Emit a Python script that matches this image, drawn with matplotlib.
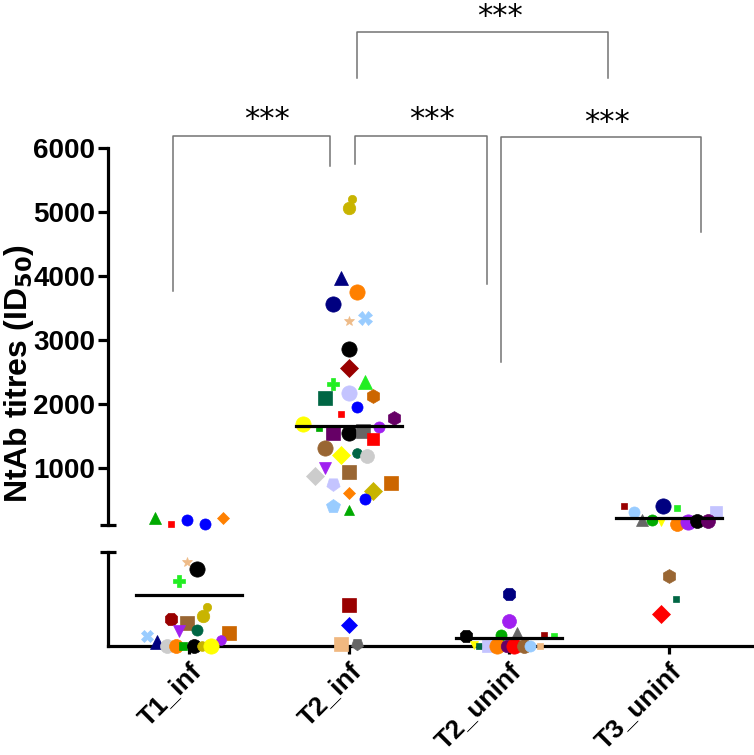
import numpy as np
import matplotlib
matplotlib.use("Agg")
import matplotlib.pyplot as plt

plt.rcParams['font.family'] = ['Liberation Sans', 'DejaVu Sans']
plt.rcParams['font.weight'] = 'bold'
plt.rcParams['mathtext.default'] = 'bf'

# grupos e médias
groups = ["T1_inf", "T2_inf", "T2_uninf", "T3_uninf"]
mean_vals = [54, 1649, 9, 210]
brk = 100  # limite entre o eixo de baixo (0-100) e o de cima (100-6000)

# paleta
C = dict(navy='#000080', orange='#FF8000', black='#000000', dred='#990000',
         lime='#22EE22', green='#00AA00', teal='#006644', lav='#C4C4FF',
         obrown='#CC6600', blue='#0000FF', red='#FF0000', dpurp='#660066',
         yellow='#FFFF00', gray='#666666', purp='#A020F0', brown='#996633',
         lgray='#CCCCCC', olive='#C8B400', lblue='#99CCFF', tan='#EEBB88',
         peach='#F0B880')
INV5 = (5, 0, 180)

# T1_inf
t1_vals = [210, 116, 178, 116, 210, 89, 82, 69, 41, 32, 29, 24, 16, 17, 14, 6,
           11, 4, 0, 0, 0, 0, 0, 0]
t1_jit = [-0.21, -0.11, -0.01, 0.10, 0.21, -0.01, 0.05, -0.06, 0.11, 0.09,
          -0.11, -0.01, -0.06, 0.05, 0.25, 0.20, -0.26, -0.20, -0.14, -0.08,
          -0.04, 0.03, 0.08, 0.14]
t1_col = ['green', 'red', 'blue', 'blue', 'orange', 'tan', 'black', 'lime',
          'olive', 'olive', 'dred', 'brown', 'purp', 'teal', 'obrown', 'purp',
          'lblue', 'navy', 'lgray', 'orange', 'green', 'black', 'olive', 'yellow']
t1_mk = ['^', 's', 'o', 'o', 'D', '*', 'o', 'P', 'o', 'o', '8', 's', 'v', 'o',
         's', 'o', 'X', '^', 'o', 'o', 's', 'o', 'o', 'o']
t1_ms = [8, 4, 8, 8, 6, 7, 11, 8, 6, 9, 10, 10, 8, 8, 10, 7, 9, 10, 10, 10, 6,
         10, 7, 11]

# T2_inf
t2_vals = [5202, 5061, 3965, 3746, 3559, 3292, 3339, 2854, 2557, 2307, 2338,
           2088, 2166, 2119, 1947, 1837, 1775, 1681, 1618, 1540, 1540, 1571,
           1634, 1446, 1305, 1195, 1227, 1180, 992, 867, 929, 742, 601, 632,
           757, 507, 397, 335, 44, 22, 2, 2]
t2_jit = [0.02, 0.0, -0.05, 0.05, -0.10, 0.0, 0.10, 0.0, 0.0, -0.10, 0.10,
          -0.15, 0.0, 0.15, 0.05, -0.05, 0.28, -0.29, -0.19, -0.10, 0.0, 0.09,
          0.19, 0.15, -0.15, -0.05, 0.05, 0.11, -0.15, -0.21, 0.0, -0.10, 0.0,
          0.15, 0.26, 0.10, -0.10, 0.0, 0.0, 0.0, -0.05, 0.05]
t2_col = ['olive', 'olive', 'navy', 'orange', 'navy', 'tan', 'lblue', 'black',
          'dred', 'lime', 'lime', 'teal', 'lav', 'obrown', 'blue', 'red',
          'dpurp', 'yellow', 'green', 'dpurp', 'black', 'gray', 'purp', 'red',
          'brown', 'yellow', 'teal', 'lgray', 'purp', 'lgray', 'brown', 'lav',
          'orange', 'olive', 'obrown', 'blue', 'lblue', 'green', 'dred', 'blue',
          'peach', 'gray']
t2_mk = ['o', 'o', '^', 'o', 'o', '*', 'X', 'o', 'D', 'P', '^', 's', 'o', 'h',
         'o', 's', 'h', 'o', 's', 's', 'o', 's', 'o', 's', 'o', 'D', 'o', 'o',
         'v', 'D', 's', INV5, 'D', 'D', 's', 'o', 'p', '^', 's', 'D', 's', INV5]
t2_ms = [6, 9, 10, 11, 11, 7, 10, 11, 9, 8, 10, 10, 11, 10, 8, 4, 10, 11, 5,
         10, 11, 10, 8, 8, 11, 9, 7, 10, 8, 9, 10, 10, 6, 9, 10, 8, 10, 7, 10,
         8, 10, 9]

# T2_uninf
t3_vals = [55, 27, 11, 12, 14, 12, 11, 1, 0, 0, 0, 0, 0, 0, 0, 0]
t3_jit = [0.0, 0.0, -0.27, -0.05, 0.05, 0.22, 0.28, -0.22, -0.19, -0.13,
          -0.075, -0.01, 0.03, 0.09, 0.13, 0.19]
t3_col = ['navy', 'purp', 'black', 'green', 'gray', 'dred', 'lime', 'yellow',
          'teal', 'lav', 'orange', 'dpurp', 'red', 'brown', 'lblue', 'peach']
t3_mk = ['8', 'o', '8', 'o', '^', 's', 's', 'v', 's', 's', 'o', 'o', 'o', 'o',
         'o', 's']
t3_ms = [10, 10, 10, 8, 9, 4, 5, 6, 4, 9, 11, 9, 11, 10, 8, 5]

# T3_uninf
t4_vals = [397, 303, 397, 366, 303, 178, 178, 147, 115, 147, 162, 162, 74, 50,
           34]
t4_jit = [-0.28, -0.22, -0.04, 0.05, 0.29, -0.17, -0.11, -0.05, 0.05, 0.12,
          0.175, 0.24, 0.0, 0.04, -0.05]
t4_col = ['dred', 'lblue', 'navy', 'lime', 'lav', 'gray', 'green', 'yellow',
          'orange', 'purp', 'black', 'dpurp', 'brown', 'teal', 'red']
t4_mk = ['s', 'o', 'o', 's', 's', '^', 'o', 'v', 'o', 'o', 'o', 'o', 'h', 's',
         'D']
t4_ms = [4, 8, 11, 5, 9, 8, 8, 6, 10, 11, 10, 10, 10, 4, 9]

vals = [t1_vals, t2_vals, t3_vals, t4_vals]
jits = [t1_jit, t2_jit, t3_jit, t4_jit]
cols = [t1_col, t2_col, t3_col, t4_col]
mks = [t1_mk, t2_mk, t3_mk, t4_mk]
mss = [t1_ms, t2_ms, t3_ms, t4_ms]

# comparações: x esquerdo, x direito, altura, pé esquerdo, pé direito
pairs = [(-0.10, 0.88, 6190, 3770, 5720),
         (1.04, 1.86, 6190, 5750, 3880),
         (1.95, 3.20, 6170, 2650, 4680),
         (1.05, 2.62, 7820, 7090, 7090)]
star_x = [0.49, 1.52, 2.61, 1.94]
star_y = [6440, 6440, 6400, 8060]

fig = plt.figure(figsize=(7.54, 7.55), dpi=100)
ax_top = fig.add_axes([0.1432, 0.3046, 0.8568, 0.4993])
ax_bot = fig.add_axes([0.1432, 0.1444, 0.8568, 0.1245])

xlim = (-0.506, 3.53)
for ax in (ax_top, ax_bot):
    ax.set_xlim(*xlim)
    for s in ('top', 'right'):
        ax.spines[s].set_visible(False)
    ax.spines['left'].set_linewidth(2.3)
    ax.spines['bottom'].set_linewidth(2.3)

ax_top.set_ylim(brk, 6000)
ax_bot.set_ylim(0, brk)
ax_top.spines['bottom'].set_visible(False)
ax_top.set_xticks([])
ax_top.set_yticks([1000, 2000, 3000, 4000, 5000, 6000])
ax_top.tick_params(axis='y', length=7, width=2.3, labelsize=20, pad=2)
ax_top.set_yticks([brk], minor=True)
ax_top.tick_params(axis='y', which='minor', direction='inout', length=12,
                   width=2.3)

ax_bot.set_yticks([brk])
ax_bot.set_yticklabels([])
ax_bot.tick_params(axis='y', direction='inout', length=12, width=2.3)
ax_bot.set_xticks(range(len(groups)))
ax_bot.set_xticklabels(groups, rotation=45, ha='right', rotation_mode='anchor',
                       fontsize=19, fontweight='bold')
ax_bot.tick_params(axis='x', length=6, width=2.3, pad=3)

# pontos
for gi in range(len(groups)):
    for v, j, c, m, s in zip(vals[gi], jits[gi], cols[gi], mks[gi], mss[gi]):
        ax = ax_top if v >= brk else ax_bot
        ax.plot(gi + j, v, marker=m, color=C[c], mec=C[c], mew=0.5, ms=s,
                ls='none', clip_on=False, zorder=3)
    ax = ax_top if mean_vals[gi] >= brk else ax_bot
    ax.plot([gi - 0.33, gi + 0.33], [mean_vals[gi]] * 2, color='black',
            lw=2.3, zorder=3.5, clip_on=False)

# colchetes de significância
for (x0, x1, h, y0, y1), sx, sy in zip(pairs, star_x, star_y):
    ax_top.plot([x0, x0, x1, x1], [y0, h, h, y1], color='0.45', lw=1.1,
                clip_on=False)
    ax_top.text(sx, sy, '***', ha='center', va='center', fontsize=22,
                fontweight='normal', family='DejaVu Sans', clip_on=False)

fig.text(0.025, 0.505, r'NtAb titres (ID$_{50}$)', rotation=90, ha='center',
         va='center', fontsize=23, fontweight='bold')

fig.savefig('out.png', dpi=100)
